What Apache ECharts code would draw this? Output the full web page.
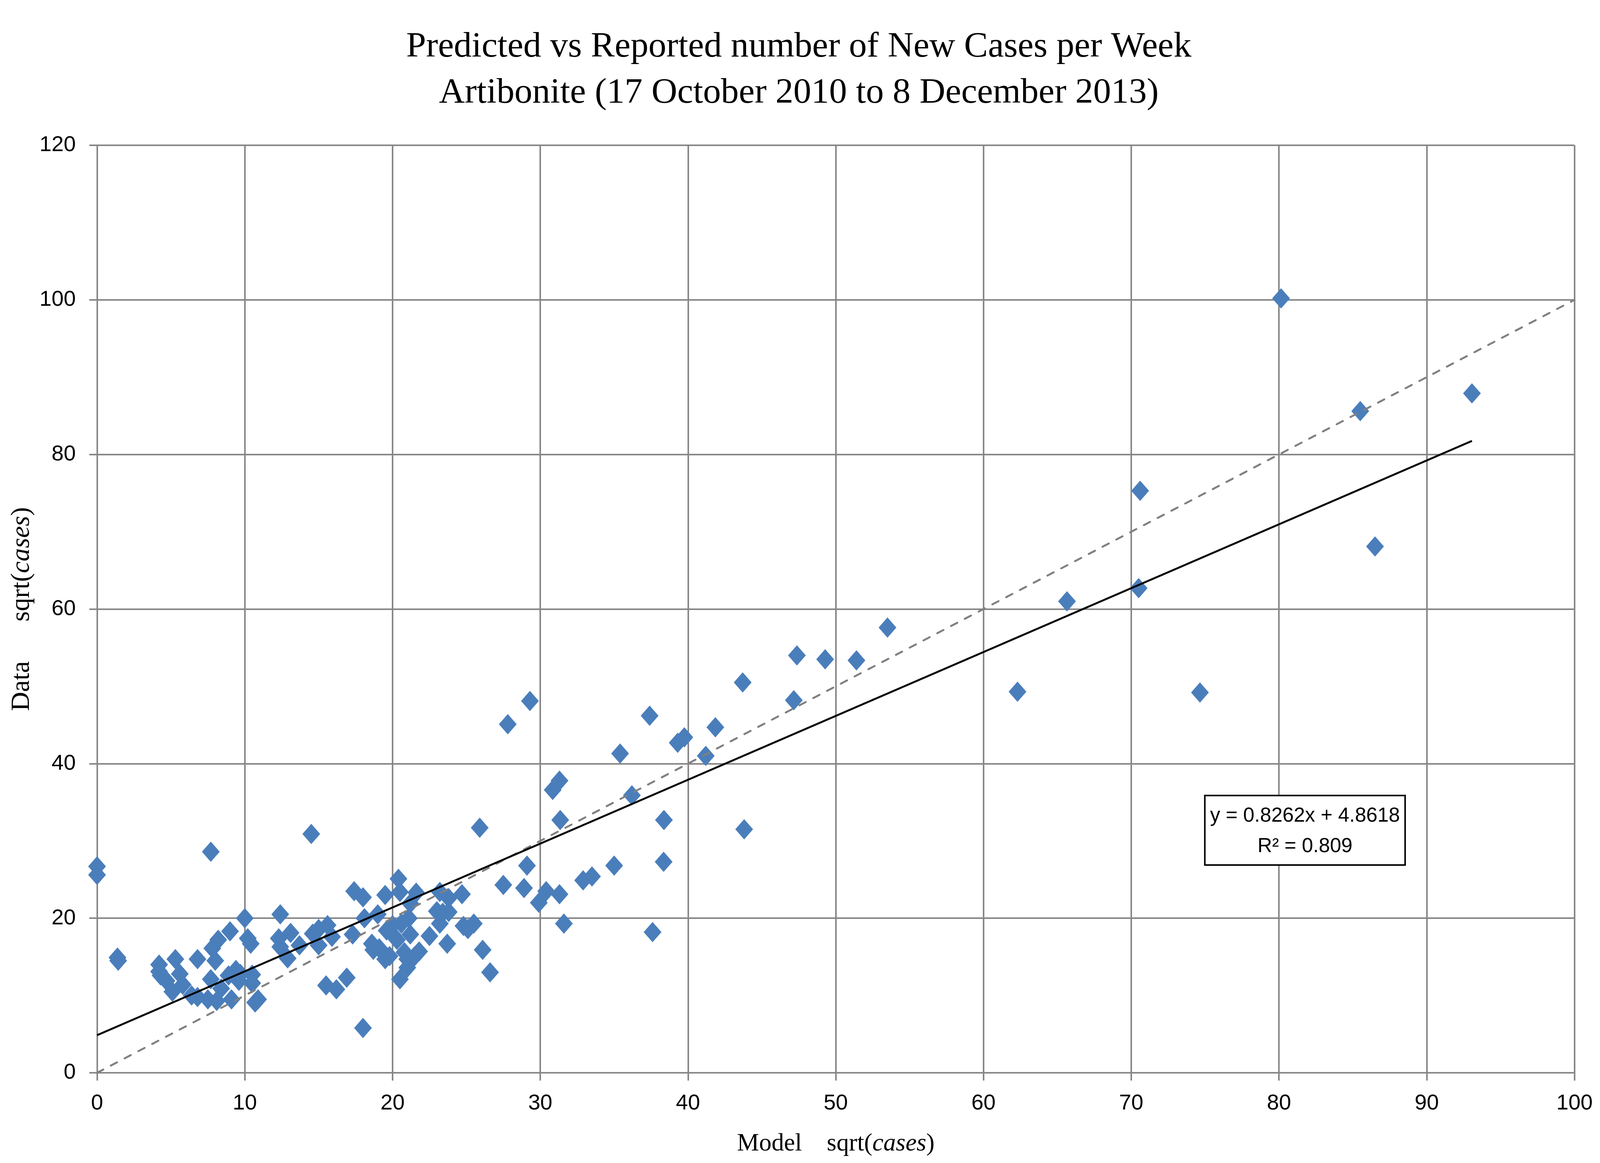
<!DOCTYPE html>
<html>
<head>
<meta charset="utf-8">
<script src="https://cdn.jsdelivr.net/npm/echarts/dist/echarts.min.js"></script>
<style>
html,body{margin:0;padding:0;background:#fff;overflow:hidden;}
#chart{width:100vw;height:100vh;}
</style>
</head>
<body>
<div id="chart"></div>
<script>
// Model sqrt(cases) (x) and reported Data sqrt(cases) (y)
const modelValues = [
  0, 0, 7.7, 14.5, 1.38, 1.43, 10.0, 12.4, 9.0, 8.2, 7.8, 6.8, 8.0, 5.3, 4.2, 4.2,
  10.2, 10.4, 12.3, 13.1, 13.7, 12.9, 12.4, 14.6, 15.0, 15.6, 15.9, 15.0,
  4.3, 4.7, 5.6, 5.8, 5.1, 6.4, 6.8, 7.5, 7.7, 8.1, 8.4, 9.1, 8.9, 9.4, 9.7, 9.6,
  10.5, 10.5, 10.9, 10.7, 15.5, 16.2, 16.9,
  17.4, 18.0, 19.5, 20.4, 20.5, 21.6, 23.2, 23.8, 24.7, 19.0, 18.1, 17.3, 21.1, 21.2,
  20.0, 20.6, 21.2, 20.0, 19.6, 20.3, 23.0, 23.4, 23.8, 23.2, 22.5, 23.7, 24.8, 25.1,
  25.5, 18.6, 18.7, 19.5, 19.8, 19.1, 20.8, 21.0, 21.8, 21.5, 21.0, 20.5, 26.1, 26.6,
  18.0, 25.9, 27.5, 28.9, 29.1, 30.4, 31.3, 29.9, 32.9, 33.5, 31.6, 31.35,
  29.3, 27.8, 37.4, 43.7, 41.85, 39.3, 39.75, 41.2, 35.4, 31.3, 30.84, 36.2, 38.37,
  43.8, 35.0, 38.35, 37.6,
  47.37, 49.28, 51.4, 53.5, 47.16, 62.3, 65.65, 70.6, 70.5, 74.65, 80.14, 85.5, 93.06, 86.5
];
const dataValues = [
  26.7, 25.6, 28.6, 30.9, 14.9, 14.5, 20.0, 20.5, 18.3, 17.2, 16.1, 14.7, 14.5, 14.7, 14.0, 13.1,
  17.4, 16.7, 17.4, 18.1, 16.5, 14.8, 16.3, 18.0, 18.6, 19.1, 17.6, 16.5,
  12.6, 11.9, 12.8, 11.4, 10.5, 10.0, 9.8, 9.5, 12.1, 9.3, 10.9, 9.5, 12.6, 13.3, 12.8, 11.9,
  12.7, 11.6, 9.5, 9.1, 11.3, 10.8, 12.3,
  23.5, 22.7, 23.0, 25.1, 23.4, 23.3, 23.4, 22.6, 23.1, 20.5, 20.0, 17.9, 20.0, 21.9,
  19.1, 19.3, 17.9, 17.9, 18.4, 17.2, 20.9, 20.7, 20.8, 19.3, 17.7, 16.7, 19.0, 18.6,
  19.3, 16.7, 15.9, 14.7, 15.1, 16.1, 15.6, 14.7, 15.7, 15.1, 13.6, 12.1, 15.9, 13.0,
  5.8, 31.7, 24.3, 23.9, 26.8, 23.5, 23.1, 22.0, 24.9, 25.4, 19.3, 32.7,
  48.1, 45.1, 46.2, 50.5, 44.7, 42.7, 43.4, 41.0, 41.3, 37.8, 36.6, 35.9, 32.7,
  31.5, 26.8, 27.3, 18.2,
  54.0, 53.5, 53.35, 57.6, 48.2, 49.3, 61.0, 75.3, 62.7, 49.2, 100.2, 85.6, 87.9, 68.1
];
// Linear trend line endpoints (y = 0.8262x + 4.8618) and the y = x reference line
const trendX = [0, 93.06];
const trendY = [4.86, 81.75];
const identityX = [0, 100];
const identityY = [0, 100];
const xTicks = {min: 0, max: 100, interval: 10};
const yTicks = {min: 0, max: 120, interval: 20};
const titleLines = ['Predicted vs Reported number of New Cases per Week', 'Artibonite (17 October 2010 to 8 December 2013)'];
const equationLines = ['y = 0.8262x + 4.8618', 'R\u00b2 = 0.809'];

const points = modelValues.map((x, i) => [x, dataValues[i]]);
const trend = trendX.map((x, i) => [x, trendY[i]]);
const identity = identityX.map((x, i) => [x, identityY[i]]);

const el = document.getElementById('chart');
const W = el.clientWidth || 4138, H = el.clientHeight || 2978;
const sx = W / 4138, sy = H / 2978, sf = (sx + sy) / 2;
const gridColor = '#878787';
const chart = echarts.init(el, null, {renderer: 'canvas'});
const axisCommon = {
  type: 'value',
  axisLine: {show: true, onZero: false, lineStyle: {color: gridColor, width: 4 * sf}},
  axisTick: {show: true, inside: false, length: 20 * sf, lineStyle: {color: gridColor, width: 4 * sf}},
  splitLine: {show: true, lineStyle: {color: gridColor, width: 4 * sf}},
  axisLabel: {color: '#000', fontFamily: 'Liberation Sans', fontSize: 56 * sf}
};
chart.setOption({
  animation: false,
  backgroundColor: '#fff',
  grid: {left: 251 * sx, right: 66 * sx, top: 372 * sy, bottom: 231 * sy, containLabel: false},
  xAxis: Object.assign({}, axisCommon, {
    min: xTicks.min, max: xTicks.max, interval: xTicks.interval,
    axisLabel: Object.assign({}, axisCommon.axisLabel, {margin: 51 * sy}),
    name: '{n|Model    sqrt(}{i|cases}{n|)}',
    nameLocation: 'middle',
    nameGap: 150 * sy,
    nameTextStyle: {
      rich: {
        n: {fontFamily: 'Liberation Serif', fontSize: 64 * sf, color: '#000'},
        i: {fontFamily: 'Liberation Serif', fontSize: 64 * sf, fontStyle: 'italic', color: '#000'}
      }
    }
  }),
  yAxis: Object.assign({}, axisCommon, {
    min: yTicks.min, max: yTicks.max, interval: yTicks.interval,
    axisLabel: Object.assign({}, axisCommon.axisLabel, {margin: 55 * sx}),
    name: '{n|Data      sqrt(}{i|cases}{n|)}',
    nameLocation: 'middle',
    nameGap: 155 * sx,
    nameTextStyle: {
      rich: {
        n: {fontFamily: 'Liberation Serif', fontSize: 68 * sf, color: '#000'},
        i: {fontFamily: 'Liberation Serif', fontSize: 68 * sf, fontStyle: 'italic', color: '#000'}
      }
    }
  }),
  series: [
    {
      type: 'scatter',
      data: points,
      symbol: 'diamond',
      symbolSize: [46 * sx, 52 * sy],
      itemStyle: {color: '#4A7EBB', opacity: 1},
      z: 2
    },
    {
      type: 'line',
      data: identity,
      showSymbol: false,
      symbol: 'none',
      lineStyle: {color: '#808080', width: 5 * sf, type: [18 * sf, 22 * sf], cap: 'round'},
      z: 3
    },
    {
      type: 'line',
      data: trend,
      showSymbol: false,
      symbol: 'none',
      lineStyle: {color: '#000', width: 5 * sf},
      z: 4
    }
  ],
  graphic: [
    {
      type: 'text',
      z: 100,
      x: 2066 * sx,
      y: 62 * sy,
      style: {
        text: titleLines.join('\n'),
        fontFamily: 'Liberation Serif',
        fontSize: 92 * sf,
        lineHeight: 118 * sy,
        fill: '#000',
        align: 'center',
        verticalAlign: 'top'
      }
    },
    {
      type: 'rect',
      z: 100,
      shape: {x: 3116 * sx, y: 2037 * sy, width: 518 * sx, height: 178 * sy},
      style: {fill: '#fff', stroke: '#000', lineWidth: 4 * sf}
    },
    {
      type: 'text',
      z: 101,
      x: 3375 * sx,
      y: 2051 * sy,
      style: {
        text: equationLines.join('\n'),
        fontFamily: 'Liberation Sans',
        fontSize: 52 * sf,
        lineHeight: 78 * sy,
        fill: '#000',
        align: 'center',
        verticalAlign: 'top'
      }
    }
  ]
});
</script>
</body>
</html>
